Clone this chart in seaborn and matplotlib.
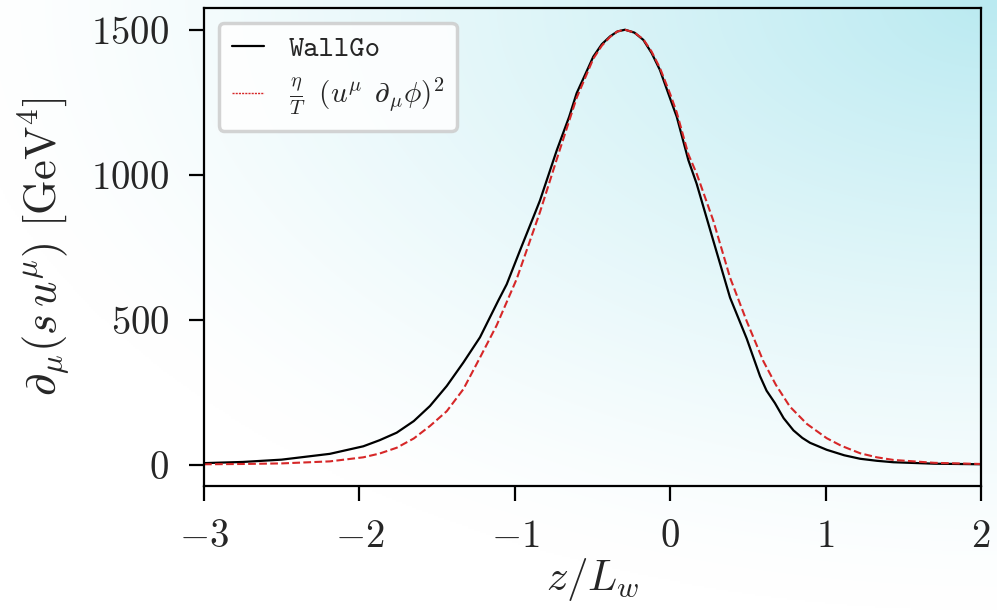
import numpy as np
import pandas as pd
import matplotlib
matplotlib.use("Agg")
import matplotlib.pyplot as plt
import seaborn as sns

# ---- data ----
z_wallgo = [-3.0, -2.75, -2.5, -2.19, -1.975, -1.87, -1.76, -1.65, -1.546, -1.438,
            -1.331, -1.224, -1.106, -1.052, -0.967, -0.881, -0.838, -0.73, -0.65,
            -0.602, -0.55, -0.495, -0.44, -0.387, -0.34, -0.291, -0.23, -0.173, -0.12,
            -0.066, 0.0, 0.042, 0.117, 0.17, 0.277, 0.385, 0.492, 0.578, 0.62, 0.674,
            0.73, 0.793, 0.85, 0.9, 1.007, 1.12, 1.222, 1.33, 1.436, 1.7, 2.0]
v_wallgo = [5, 9, 17, 37, 63, 84, 110, 150, 202, 271,
            352, 439, 566, 622, 738, 853, 911, 1084, 1200,
            1281, 1342, 1407, 1450, 1477, 1494, 1500, 1490, 1465, 1420,
            1361, 1262, 1200, 1050, 969, 773, 576, 435, 305, 255, 212,
            160, 118, 92, 75, 51, 32, 20, 13, 8, 3, 1]

z_approx = [-3.0, -2.75, -2.5, -2.19, -1.975, -1.87, -1.76, -1.65, -1.546, -1.438,
            -1.331, -1.224, -1.117, -0.988, -0.838, -0.72, -0.602, -0.495, -0.44,
            -0.387, -0.34, -0.291, -0.23, -0.173, -0.12, -0.066, 0.0, 0.042, 0.117,
            0.17, 0.277, 0.385, 0.492, 0.599, 0.68, 0.77, 0.88, 1.007, 1.1, 1.222,
            1.33, 1.436, 1.7, 2.0]
v_approx = [1, 2, 4, 11, 25, 38, 58, 90, 133, 184,
            260, 369, 480, 640, 871, 1070, 1265, 1400, 1445,
            1475, 1494, 1500, 1490, 1467, 1425, 1368, 1278, 1215, 1070,
            1004, 842, 645, 495, 357, 275, 200, 140, 91, 65, 39,
            25, 16, 6, 2]

xticks = [-3, -2, -1, 0, 1, 2]
xtick_labels = [r"$-3$", r"$-2$", r"$-1$", r"$0$", r"$1$", r"$2$"]
yticks = [0, 500, 1000, 1500]
ytick_labels = [r"$0$", r"$500$", r"$1000$", r"$1500$"]

label_wallgo = "WallGo"
label_approx = r"$\frac{\eta}{T}\;\;(u^\mu\;\,\partial_\mu\phi)^2$"

sns.set_style("ticks")
plt.rcParams["mathtext.fontset"] = "cm"
plt.rcParams["font.family"] = ["DejaVu Serif"]

fig = plt.figure(figsize=(9.97, 6.11), dpi=100)

# background gradient (white bottom-left -> light cyan top-right)
bg = fig.add_axes([0, 0, 1, 1], zorder=-10)
W, H = 997, 611
px = np.linspace(0, W, 500)
py = np.linspace(H, 0, 300)          # y measured upward
PX, PY = np.meshgrid(px, py)
d = np.sqrt(((W - PX) / (1.05 * W)) ** 2 + ((H - PY) / (1.0 * H)) ** 2)
t = np.clip(1 - d, 0, 1) ** 1.3
c0 = np.array([1.0, 1.0, 1.0])
c1 = np.array([186, 234, 241]) / 255.0
img = c0[None, None, :] * (1 - t[..., None]) + c1[None, None, :] * t[..., None]
bg.imshow(img, aspect="auto", extent=[0, 1, 0, 1], interpolation="bilinear")
bg.set_axis_off()

ax = fig.add_axes([204 / 997, 1 - 486 / 611, (981 - 204) / 997, (486 - 8) / 611])
ax.set_facecolor("none")

df1 = pd.DataFrame({"z": z_wallgo, "v": v_wallgo})
df2 = pd.DataFrame({"z": z_approx, "v": v_approx})
sns.lineplot(data=df1, x="z", y="v", ax=ax, color="black", lw=1.6, label=label_wallgo)
sns.lineplot(data=df2, x="z", y="v", ax=ax, color="#d62728", lw=1.5,
             linestyle="--", label=label_approx)

ax.set_xlim(-3, 2)
ax.set_xticks(xticks, labels=xtick_labels)
ax.set_yticks(yticks, labels=ytick_labels)
ax.tick_params(direction="out", length=11, width=1.6, labelsize=28, pad=14,
               color="black")
ax.tick_params(axis="x", pad=12)
for sp in ax.spines.values():
    sp.set_visible(True)
    sp.set_linewidth(1.6)
    sp.set_color("black")

ax.set_xlabel(r"$z/L_w$", fontsize=31, labelpad=1)
ax.set_ylabel(r"$\partial_\mu(s\,u^\mu)\ [\mathrm{GeV}^4]$", fontsize=32, labelpad=14)

leg = ax.legend(loc="upper left", fontsize=21, frameon=True, fancybox=True,
                borderaxespad=0.5, handlelength=1.1, handletextpad=0.85,
                borderpad=0.45, labelspacing=0.45)
fr = leg.get_frame()
fr.set_facecolor("white")
fr.set_alpha(0.85)
fr.set_edgecolor("#cccccc")
fr.set_linewidth(2.5)
leg.get_texts()[0].set_family(["cmtt10", "DejaVu Sans Mono"])
leg.get_lines()[1].set_linewidth(1.0)
leg.get_lines()[1].set_dashes([1.5, 0.8])

fig.savefig("out.png", dpi=100)
